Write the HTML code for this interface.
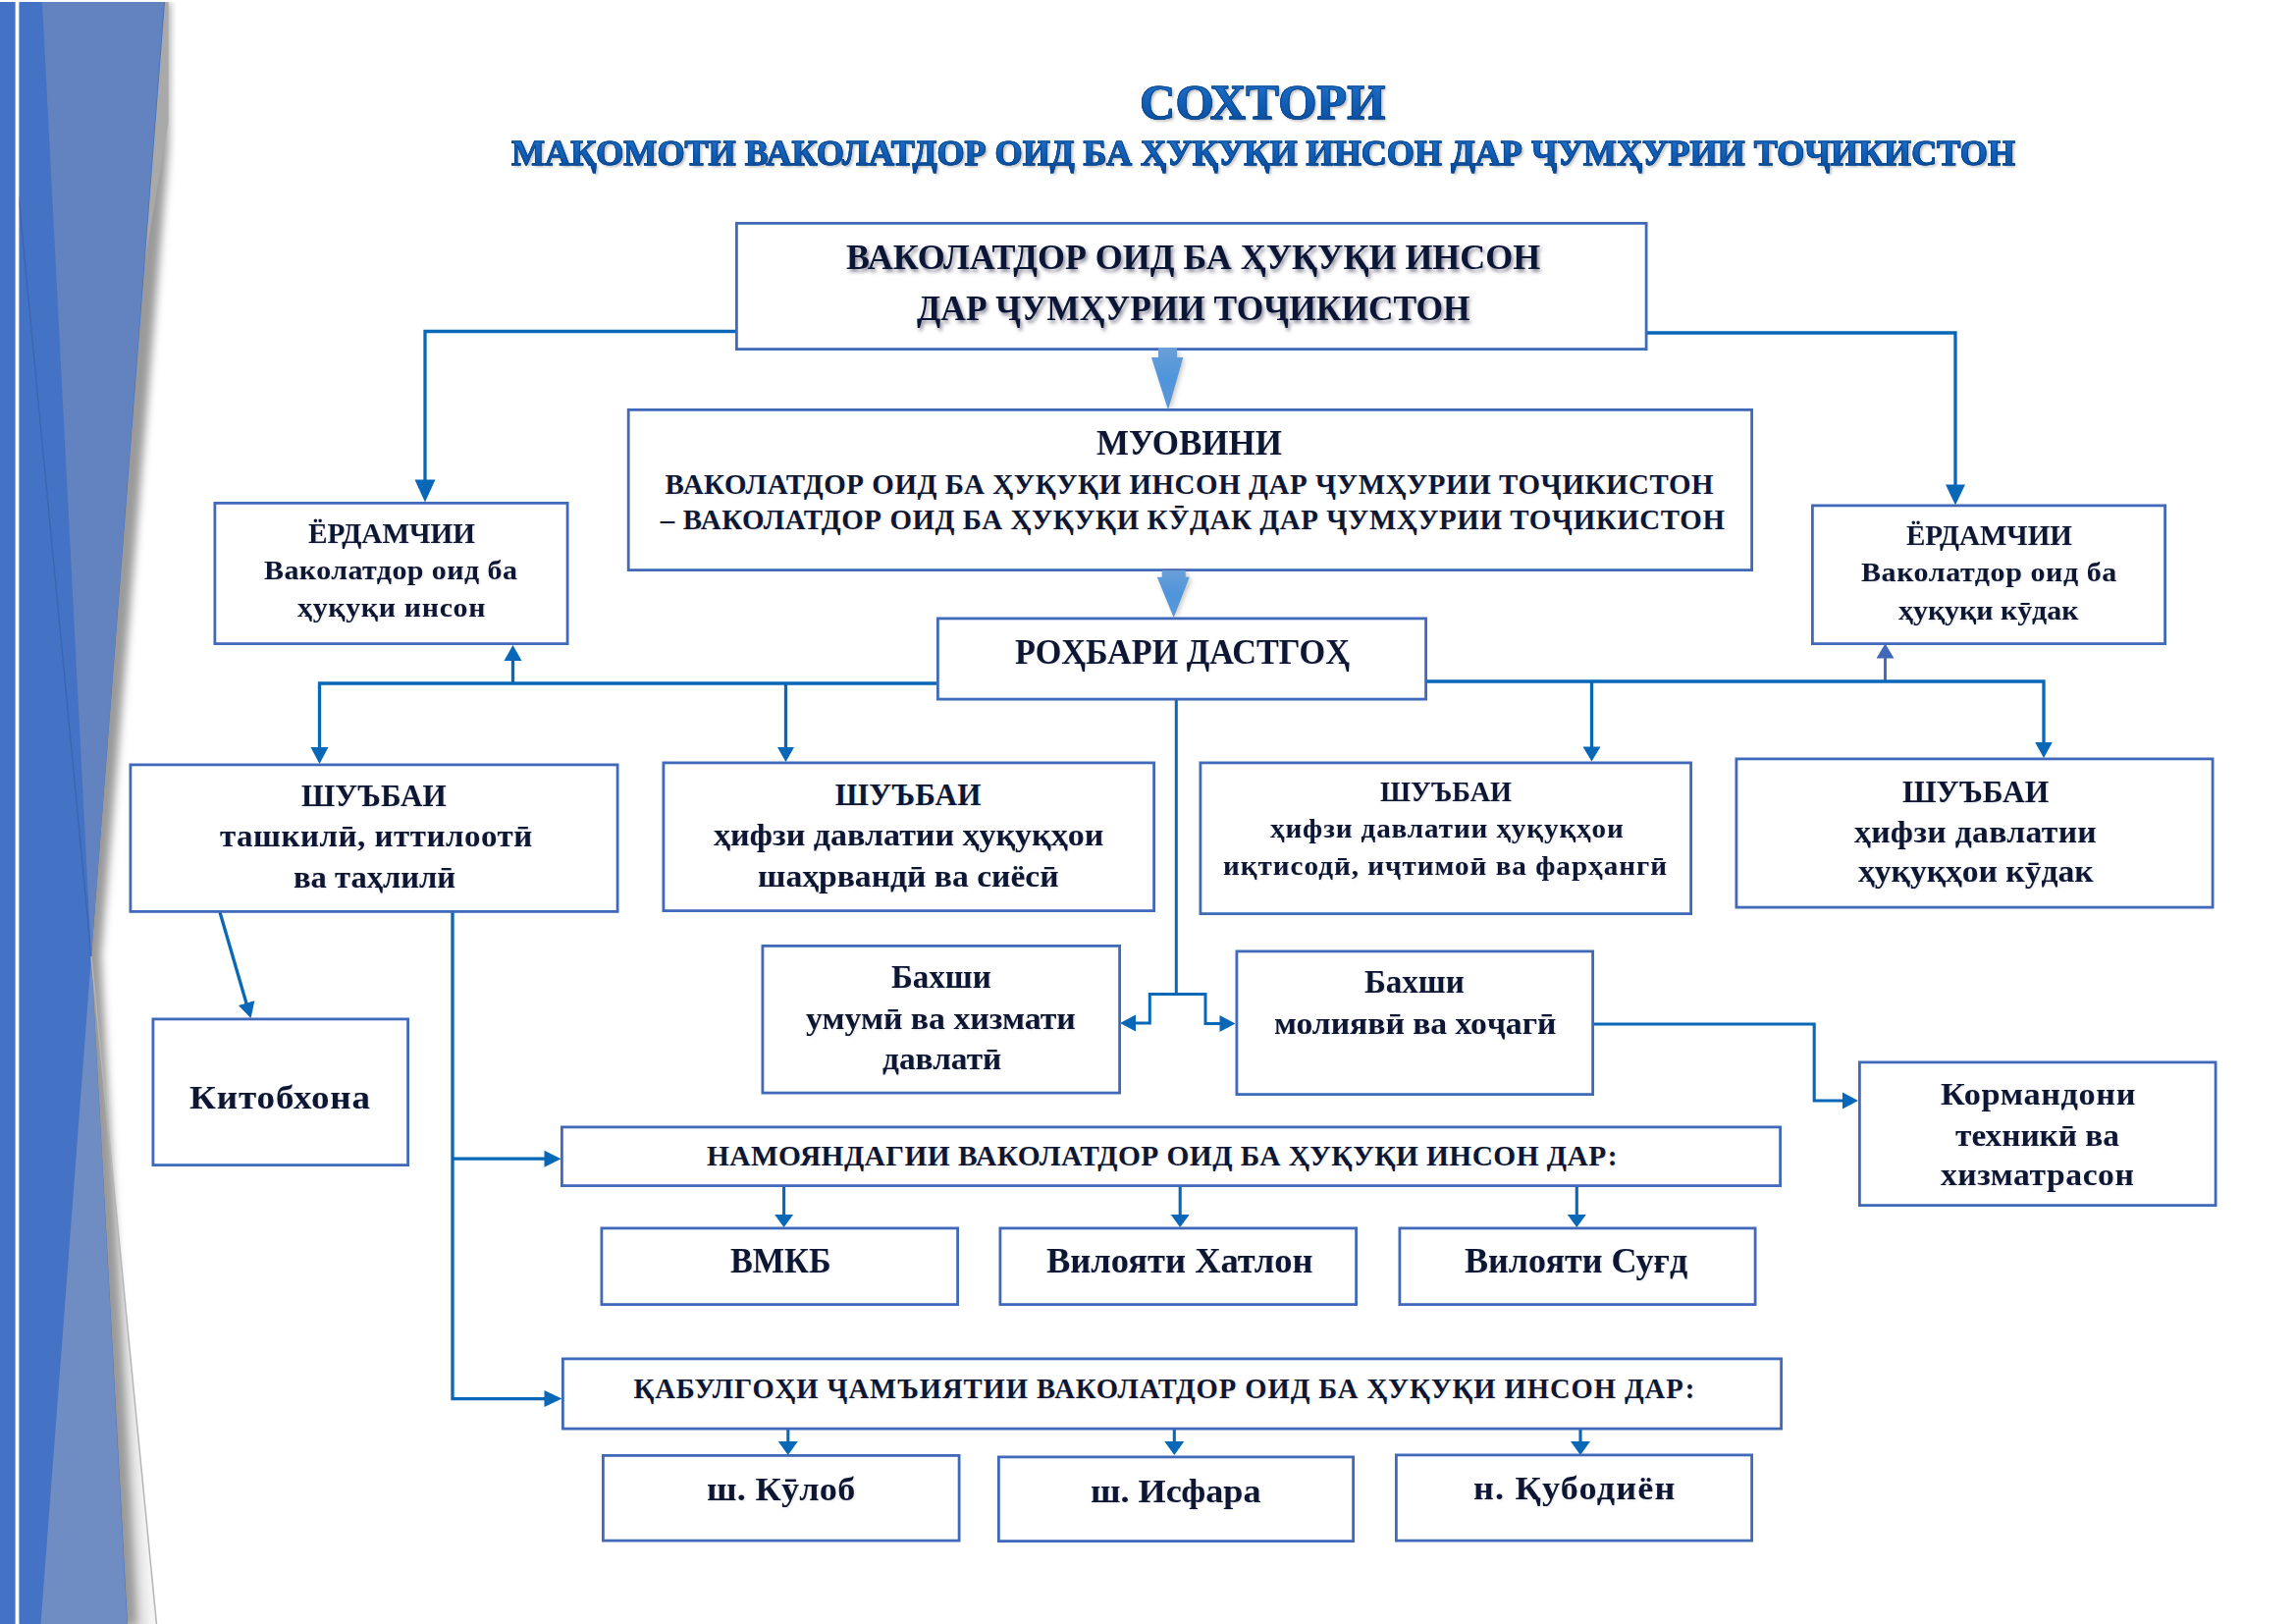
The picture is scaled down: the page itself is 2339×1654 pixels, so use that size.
<!DOCTYPE html>
<html><head><meta charset="utf-8">
<style>
html,body{margin:0;padding:0;background:#fff;}
body{width:2339px;height:1654px;position:relative;overflow:hidden;font-family:"Liberation Serif",serif;font-weight:bold;}
.tt,.tts,.ts,.tn{position:absolute;white-space:nowrap;transform-origin:0 0;}
.tts{color:#0A4790;-webkit-text-stroke:0.9px #0A4790;text-shadow:2px 2px 3px rgba(60,60,60,0.4);}
.tt{color:transparent;background:linear-gradient(180deg,#2274CC 0%,#115EB6 50%,#0A4B98 100%);-webkit-background-clip:text;background-clip:text;-webkit-text-stroke:0.9px #0A4790;}
.ts{color:#0B1536;text-shadow:2px 3px 4px rgba(30,30,60,0.5);}
.tn{color:#0D1733;text-shadow:1px 1px 2px rgba(80,80,100,0.15);}
</style></head><body>

<svg width="180" height="1654" style="position:absolute;left:0;top:0" viewBox="0 0 180 1654">
 <defs>
  <filter id="sb" x="-30%" y="-5%" width="160%" height="110%"><feGaussianBlur stdDeviation="4"/></filter>
  <linearGradient id="gLow" gradientUnits="userSpaceOnUse" x1="110" y1="1310" x2="135" y2="1308.6"><stop offset="0" stop-color="#b8b8b8"/><stop offset="0.5" stop-color="#dcdcdc"/><stop offset="1" stop-color="#f4f4f4"/></linearGradient>
  <clipPath id="cB"><rect x="19.5" y="2" width="160" height="1652"/></clipPath>
  
 </defs>
 <rect x="0" y="2" width="15.6" height="1652" fill="#4472C4"/>
 <g clip-path="url(#cB)">
  <polygon points="93,974 129.5,1654 159.5,1654" fill="url(#gLow)"/>
  <polygon points="19,2 173,2 172,150 103,974 139,1654 19,1654" fill="#9a9a9a" filter="url(#sb)"/>
  <polygon points="120,2 171.5,2 171.5,125 145,282 120,282" fill="#a9a9a9"/>
  <polygon points="19,2 168,2 93,974 130,1654 19,1654" fill="#4472C4"/>
  <line x1="19" y1="200" x2="93" y2="974" stroke="#3a62aa" stroke-width="1.3" opacity="0.8"/>
  <polygon points="43,2 167,2 93,974" fill="#6283C0"/>
  <polygon points="93,974 41.5,1654 129.5,1654" fill="#6F8CC3"/>
  <line x1="93" y1="974" x2="159.5" y2="1654" stroke="#b5b5b5" stroke-width="1.5"/>
 </g>
</svg>

<svg width="2339" height="1654" style="position:absolute;left:0;top:0" viewBox="0 0 2339 1654">
<polyline points="749.0,337.5 433.0,337.5 433.0,490.0" fill="none" stroke="#0867B6" stroke-width="3.3" stroke-linejoin="miter" stroke-linecap="butt"/><polygon points="433.0,511.5 422.5,488.5 443.5,488.5" fill="#0867B6"/><polyline points="1678.0,339.0 1992.0,339.0 1992.0,494.0" fill="none" stroke="#0867B6" stroke-width="3.3" stroke-linejoin="miter" stroke-linecap="butt"/><polygon points="1992.0,514.5 1982.0,493.5 2002.0,493.5" fill="#0867B6"/><polyline points="522.5,696.0 522.5,672.0" fill="none" stroke="#0867B6" stroke-width="3.3" stroke-linejoin="miter" stroke-linecap="butt"/><polygon points="522.5,657.0 531.5,673.0 513.5,673.0" fill="#0867B6"/><polyline points="1920.5,694.0 1920.5,670.0" fill="none" stroke="#4169BA" stroke-width="2.9" stroke-linejoin="miter" stroke-linecap="butt"/><polygon points="1920.5,655.5 1929.5,670.5 1911.5,670.5" fill="#4169BA"/><polyline points="954.0,696.0 325.5,696.0 325.5,763.0" fill="none" stroke="#0867B6" stroke-width="3.3" stroke-linejoin="miter" stroke-linecap="butt"/><polygon points="325.5,778.0 316.5,761.0 334.5,761.0" fill="#0867B6"/><polyline points="800.5,696.0 800.5,763.0" fill="none" stroke="#0867B6" stroke-width="3.3" stroke-linejoin="miter" stroke-linecap="butt"/><polygon points="800.5,776.0 792.0,761.0 809.0,761.0" fill="#0867B6"/><polyline points="1454.0,694.0 2082.0,694.0 2082.0,758.0" fill="none" stroke="#0867B6" stroke-width="3.3" stroke-linejoin="miter" stroke-linecap="butt"/><polygon points="2082.0,772.0 2073.2,756.0 2090.8,756.0" fill="#0867B6"/><polyline points="1621.5,694.0 1621.5,762.0" fill="none" stroke="#0867B6" stroke-width="3.3" stroke-linejoin="miter" stroke-linecap="butt"/><polygon points="1621.5,775.5 1612.5,760.5 1630.5,760.5" fill="#0867B6"/><polyline points="1198.3,713.0 1198.3,1012.6" fill="none" stroke="#0867B6" stroke-width="3.0" stroke-linejoin="miter" stroke-linecap="butt"/><polyline points="1156.0,1042.0 1171.3,1042.0 1171.3,1012.6 1228.0,1012.6 1228.0,1042.4 1244.0,1042.4" fill="none" stroke="#0867B6" stroke-width="3.0" stroke-linejoin="miter" stroke-linecap="butt"/><polygon points="1141.0,1042.0 1157.0,1033.5 1157.0,1050.5" fill="#0867B6"/><polygon points="1258.5,1042.4 1242.5,1050.9 1242.5,1033.9" fill="#0867B6"/><polyline points="1624.0,1043.0 1848.2,1043.0 1848.2,1121.0 1878.0,1121.0" fill="none" stroke="#0867B6" stroke-width="3.1" stroke-linejoin="miter" stroke-linecap="butt"/><polygon points="1893.0,1121.0 1877.0,1129.5 1877.0,1112.5" fill="#0867B6"/><polyline points="224.0,929.0 251.2,1022.5" fill="none" stroke="#0867B6" stroke-width="3.3" stroke-linejoin="miter" stroke-linecap="butt"/><polygon points="255.6,1037.0 242.9,1024.0 259.3,1019.3" fill="#0867B6"/><polyline points="461.0,929.0 461.0,1424.6 555.0,1424.6" fill="none" stroke="#0867B6" stroke-width="3.3" stroke-linejoin="miter" stroke-linecap="butt"/><polygon points="572.5,1424.6 554.5,1433.1 554.5,1416.1" fill="#0867B6"/><polyline points="461.0,1180.2 556.0,1180.2" fill="none" stroke="#0867B6" stroke-width="3.3" stroke-linejoin="miter" stroke-linecap="butt"/><polygon points="571.5,1180.2 554.5,1188.7 554.5,1171.7" fill="#0867B6"/><polyline points="798.6,1209.0 798.6,1237.0" fill="none" stroke="#0867B6" stroke-width="3.1" stroke-linejoin="miter" stroke-linecap="butt"/><polygon points="798.6,1250.0 789.1,1237.0 808.1,1237.0" fill="#0867B6"/><polyline points="1202.2,1209.0 1202.2,1237.0" fill="none" stroke="#0867B6" stroke-width="3.1" stroke-linejoin="miter" stroke-linecap="butt"/><polygon points="1202.2,1250.0 1192.7,1237.0 1211.7,1237.0" fill="#0867B6"/><polyline points="1606.3,1209.0 1606.3,1237.0" fill="none" stroke="#0867B6" stroke-width="3.1" stroke-linejoin="miter" stroke-linecap="butt"/><polygon points="1606.3,1250.0 1596.8,1237.0 1615.8,1237.0" fill="#0867B6"/><polyline points="802.8,1456.0 802.8,1469.0" fill="none" stroke="#0867B6" stroke-width="3.1" stroke-linejoin="miter" stroke-linecap="butt"/><polygon points="802.8,1482.0 792.8,1468.0 812.8,1468.0" fill="#0867B6"/><polyline points="1196.3,1456.0 1196.3,1469.0" fill="none" stroke="#0867B6" stroke-width="3.1" stroke-linejoin="miter" stroke-linecap="butt"/><polygon points="1196.3,1482.0 1186.3,1468.0 1206.3,1468.0" fill="#0867B6"/><polyline points="1610.0,1456.0 1610.0,1469.0" fill="none" stroke="#0867B6" stroke-width="3.1" stroke-linejoin="miter" stroke-linecap="butt"/><polygon points="1610.0,1482.0 1600.0,1468.0 1620.0,1468.0" fill="#0867B6"/>
<rect x="750.40" y="227.40" width="926.70" height="128.20" fill="#fff" stroke="#4169BA" stroke-width="2.8"/><rect x="640.20" y="417.40" width="1144.40" height="163.20" fill="#fff" stroke="#4169BA" stroke-width="2.8"/><rect x="218.90" y="512.40" width="359.20" height="143.20" fill="#fff" stroke="#4169BA" stroke-width="2.8"/><rect x="1846.40" y="514.90" width="359.20" height="140.70" fill="#fff" stroke="#4169BA" stroke-width="2.8"/><rect x="955.40" y="629.90" width="497.20" height="82.20" fill="#fff" stroke="#4169BA" stroke-width="2.8"/><rect x="132.90" y="778.90" width="496.20" height="149.50" fill="#fff" stroke="#4169BA" stroke-width="2.8"/><rect x="675.90" y="776.90" width="499.70" height="150.70" fill="#fff" stroke="#4169BA" stroke-width="2.8"/><rect x="1222.90" y="776.90" width="499.70" height="153.70" fill="#fff" stroke="#4169BA" stroke-width="2.8"/><rect x="1768.90" y="772.90" width="485.20" height="151.20" fill="#fff" stroke="#4169BA" stroke-width="2.8"/><rect x="776.90" y="963.40" width="363.70" height="149.70" fill="#fff" stroke="#4169BA" stroke-width="2.8"/><rect x="1259.90" y="968.90" width="362.70" height="145.70" fill="#fff" stroke="#4169BA" stroke-width="2.8"/><rect x="155.90" y="1037.90" width="259.70" height="148.70" fill="#fff" stroke="#4169BA" stroke-width="2.8"/><rect x="1894.40" y="1081.90" width="362.70" height="145.70" fill="#fff" stroke="#4169BA" stroke-width="2.8"/><rect x="572.40" y="1147.90" width="1241.20" height="59.70" fill="#fff" stroke="#4169BA" stroke-width="2.8"/><rect x="612.90" y="1250.90" width="362.70" height="77.70" fill="#fff" stroke="#4169BA" stroke-width="2.8"/><rect x="1018.90" y="1250.90" width="362.70" height="77.70" fill="#fff" stroke="#4169BA" stroke-width="2.8"/><rect x="1425.90" y="1250.90" width="362.20" height="77.70" fill="#fff" stroke="#4169BA" stroke-width="2.8"/><rect x="573.40" y="1383.90" width="1241.20" height="71.20" fill="#fff" stroke="#4169BA" stroke-width="2.8"/><rect x="614.40" y="1482.40" width="362.70" height="86.70" fill="#fff" stroke="#4169BA" stroke-width="2.8"/><rect x="1017.40" y="1483.90" width="361.20" height="85.70" fill="#fff" stroke="#4169BA" stroke-width="2.8"/><rect x="1422.40" y="1481.90" width="362.20" height="87.20" fill="#fff" stroke="#4169BA" stroke-width="2.8"/>

<defs>
 <linearGradient id="ga" x1="0" y1="0" x2="0" y2="1">
  <stop offset="0" stop-color="#6A9FD8"/><stop offset="0.5" stop-color="#4F95DB"/><stop offset="1" stop-color="#5A98D6"/>
 </linearGradient>
 <filter id="sh" x="-50%" y="-20%" width="200%" height="150%"><feGaussianBlur stdDeviation="2.5"/></filter>
</defs>
<g filter="url(#sh)" opacity="0.35">
 <polygon points="1182,357 1201,357 1201,366 1207,366 1192,419 1175,366 1182,366" fill="#555"/>
 <polygon points="1186,582 1210,582 1210,590 1214,590 1198,629 1181,590 1186,590" fill="#555"/>
</g>
<polygon points="1180,354 1199,354 1199,364 1205.3,364 1190,417.6 1173,364 1180,364" fill="url(#ga)"/>
<polygon points="1183.7,581 1207.7,581 1207.7,587.7 1211.7,587.7 1195.7,629 1178.8,587.7 1183.7,587.7" fill="url(#ga)"/>

</svg>
<div class="tts" style="left:1161.0px;top:79.1px;font-size:50.80px;line-height:50.80px;transform:scaleX(0.9930)">СОХТОРИ</div><div class="tt" style="left:1161.0px;top:79.1px;font-size:50.80px;line-height:50.80px;transform:scaleX(0.9930)">СОХТОРИ</div><div class="tts" style="left:520.9px;top:137.7px;font-size:36.30px;line-height:36.30px;transform:scaleX(0.9943)">МАҚОМОТИ ВАКОЛАТДОР ОИД БА ҲУҚУҚИ ИНСОН ДАР ҶУМҲУРИИ ТОҶИКИСТОН</div><div class="tt" style="left:520.9px;top:137.7px;font-size:36.30px;line-height:36.30px;transform:scaleX(0.9943)">МАҚОМОТИ ВАКОЛАТДОР ОИД БА ҲУҚУҚИ ИНСОН ДАР ҶУМҲУРИИ ТОҶИКИСТОН</div><div class="ts" style="left:861.8px;top:244.3px;font-size:36.20px;line-height:36.20px;transform:scaleX(0.9930)">ВАКОЛАТДОР ОИД БА ҲУҚУҚИ ИНСОН</div><div class="ts" style="left:934.0px;top:296.1px;font-size:36.20px;line-height:36.20px;transform:scaleX(0.9775)">ДАР ҶУМҲУРИИ ТОҶИКИСТОН</div><div class="tn" style="left:1116.9px;top:433.4px;font-size:36.20px;line-height:36.20px;transform:scaleX(0.9653)">МУОВИНИ</div><div class="tn" style="left:677.6px;top:478.6px;font-size:28.90px;line-height:28.90px;letter-spacing:0.602px">ВАКОЛАТДОР ОИД БА ҲУҚУҚИ ИНСОН ДАР ҶУМҲУРИИ ТОҶИКИСТОН</div><div class="tn" style="left:672.8px;top:515.2px;font-size:28.90px;line-height:28.90px;letter-spacing:0.604px">– ВАКОЛАТДОР ОИД БА ҲУҚУҚИ КӮДАК ДАР ҶУМҲУРИИ ТОҶИКИСТОН</div><div class="tn" style="left:313.7px;top:528.8px;font-size:29.50px;line-height:29.50px;transform:scaleX(0.9912)">ЁРДАМЧИИ</div><div class="tn" style="left:269.2px;top:567.0px;font-size:28.00px;line-height:28.00px;letter-spacing:0.410px;transform:scaleX(1.0700)">Ваколатдор оид ба</div><div class="tn" style="left:303.2px;top:604.9px;font-size:27.90px;line-height:27.90px;letter-spacing:0.668px;transform:scaleX(1.0700)">ҳуқуқи инсон</div><div class="tn" style="left:1941.9px;top:530.7px;font-size:29.50px;line-height:29.50px;transform:scaleX(0.9842)">ЁРДАМЧИИ</div><div class="tn" style="left:1896.2px;top:569.2px;font-size:28.00px;line-height:28.00px;letter-spacing:0.550px;transform:scaleX(1.0700)">Ваколатдор оид ба</div><div class="tn" style="left:1934.3px;top:607.6px;font-size:27.90px;line-height:27.90px;letter-spacing:0.016px;transform:scaleX(1.0700)">ҳуқуқи кӯдак</div><div class="tn" style="left:1033.8px;top:645.6px;font-size:36.20px;line-height:36.20px;transform:scaleX(0.9444)">РОҲБАРИ ДАСТГОҲ</div><div class="tn" style="left:306.7px;top:795.1px;font-size:31.80px;line-height:31.80px;transform:scaleX(0.9799)">ШУЪБАИ</div><div class="tn" style="left:223.7px;top:836.7px;font-size:30.80px;line-height:30.80px;letter-spacing:0.485px;transform:scaleX(1.0700)">ташкилӣ, иттилоотӣ</div><div class="tn" style="left:298.9px;top:878.5px;font-size:30.80px;line-height:30.80px;transform:scaleX(1.0577)">ва таҳлилӣ</div><div class="tn" style="left:850.8px;top:793.5px;font-size:31.10px;line-height:31.10px;letter-spacing:0.216px">ШУЪБАИ</div><div class="tn" style="left:726.6px;top:834.7px;font-size:31.80px;line-height:31.80px;transform:scaleX(1.0691)">ҳифзи давлатии ҳуқуқҳои</div><div class="tn" style="left:772.2px;top:876.7px;font-size:31.80px;line-height:31.80px;transform:scaleX(1.0571)">шаҳрвандӣ ва сиёсӣ</div><div class="tn" style="left:1405.6px;top:791.6px;font-size:29.50px;line-height:29.50px;transform:scaleX(0.9573)">ШУЪБАИ</div><div class="tn" style="left:1293.5px;top:830.8px;font-size:27.20px;line-height:27.20px;letter-spacing:0.839px;transform:scaleX(1.0700)">ҳифзи давлатии ҳуқуқҳои</div><div class="tn" style="left:1246.4px;top:868.7px;font-size:27.20px;line-height:27.20px;letter-spacing:0.945px;transform:scaleX(1.0700)">иқтисодӣ, иҷтимоӣ ва фарҳангӣ</div><div class="tn" style="left:1937.7px;top:789.5px;font-size:32.20px;line-height:32.20px;transform:scaleX(0.9775)">ШУЪБАИ</div><div class="tn" style="left:1889.0px;top:832.0px;font-size:31.40px;line-height:31.40px;letter-spacing:0.332px;transform:scaleX(1.0700)">ҳифзи давлатии</div><div class="tn" style="left:1892.6px;top:872.3px;font-size:31.40px;line-height:31.40px;transform:scaleX(1.0691)">ҳуқуқҳои кӯдак</div><div class="tn" style="left:908.4px;top:979.1px;font-size:32.90px;line-height:32.90px;transform:scaleX(1.0031)">Бахши</div><div class="tn" style="left:821.3px;top:1021.8px;font-size:31.60px;line-height:31.60px;transform:scaleX(1.0697)">умумӣ ва хизмати</div><div class="tn" style="left:898.8px;top:1062.6px;font-size:31.60px;line-height:31.60px;transform:scaleX(1.0560)">давлатӣ</div><div class="tn" style="left:1390.3px;top:984.4px;font-size:32.90px;line-height:32.90px;transform:scaleX(1.0041)">Бахши</div><div class="tn" style="left:1298.1px;top:1026.8px;font-size:31.60px;line-height:31.60px;transform:scaleX(1.0641)">молиявӣ ва хоҷагӣ</div><div class="tn" style="left:192.7px;top:1100.0px;font-size:34.60px;line-height:34.60px;letter-spacing:0.841px;transform:scaleX(1.0700)">Китобхона</div><div class="tn" style="left:1976.5px;top:1098.4px;font-size:32.00px;line-height:32.00px;letter-spacing:0.606px;transform:scaleX(1.0700)">Кормандони</div><div class="tn" style="left:1991.7px;top:1140.5px;font-size:31.40px;line-height:31.40px;transform:scaleX(1.0620)">техникӣ ва</div><div class="tn" style="left:1977.3px;top:1181.3px;font-size:31.40px;line-height:31.40px;letter-spacing:0.527px;transform:scaleX(1.0700)">хизматрасон</div><div class="tn" style="left:719.9px;top:1163.4px;font-size:29.40px;line-height:29.40px;letter-spacing:0.457px">НАМОЯНДАГИИ ВАКОЛАТДОР ОИД БА ҲУҚУҚИ ИНСОН ДАР:</div><div class="tn" style="left:743.7px;top:1266.8px;font-size:35.20px;line-height:35.20px;transform:scaleX(0.9725)">ВМКБ</div><div class="tn" style="left:1065.6px;top:1267.4px;font-size:35.30px;line-height:35.30px;transform:scaleX(1.0334)">Вилояти Хатлон</div><div class="tn" style="left:1492.4px;top:1266.8px;font-size:35.30px;line-height:35.30px;transform:scaleX(1.0218)">Вилояти Суғд</div><div class="tn" style="left:645.5px;top:1400.5px;font-size:28.60px;line-height:28.60px;letter-spacing:0.940px">ҚАБУЛГОҲИ ҶАМЪИЯТИИ ВАКОЛАТДОР ОИД БА ҲУҚУҚИ ИНСОН ДАР:</div><div class="tn" style="left:719.5px;top:1500.3px;font-size:33.80px;line-height:33.80px;letter-spacing:0.258px;transform:scaleX(1.0700)">ш. Кӯлоб</div><div class="tn" style="left:1110.7px;top:1501.5px;font-size:33.80px;line-height:33.80px;transform:scaleX(1.0691)">ш. Исфара</div><div class="tn" style="left:1500.7px;top:1499.2px;font-size:33.80px;line-height:33.80px;letter-spacing:1.107px;transform:scaleX(1.0700)">н. Қубодиён</div>
</body></html>
